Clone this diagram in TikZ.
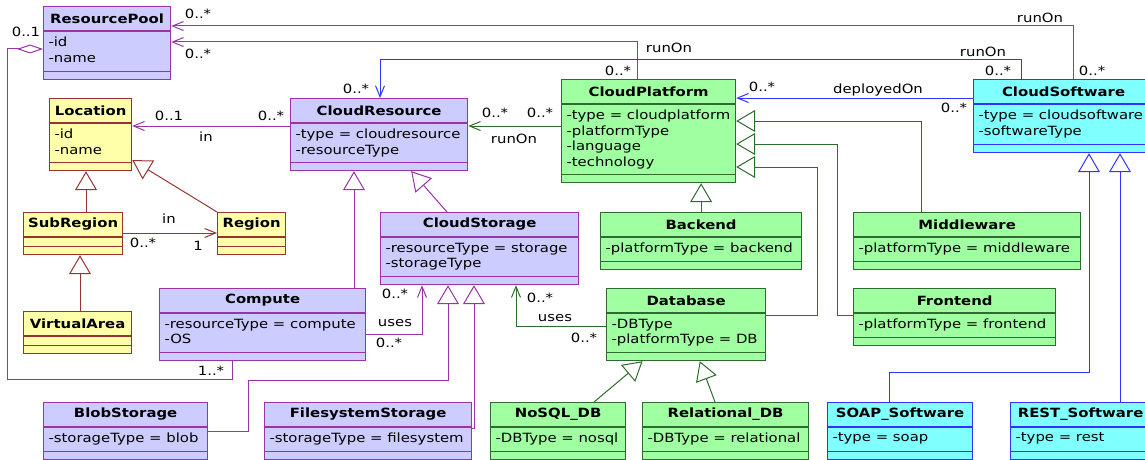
\documentclass[tikz,border=0pt]{standalone}
\usepackage{fontspec}
\setmainfont{DejaVu Sans}[FakeStretch=1.17]
\usepackage{tikz}
\usetikzlibrary{arrows.meta,calc}
\definecolor{poolfill}{HTML}{CCCCFF}
\definecolor{poolline}{HTML}{9933AA}
\definecolor{platfill}{HTML}{A0FFA0}
\definecolor{platline}{HTML}{2E6B2E}
\definecolor{softfill}{HTML}{80FFFF}
\definecolor{softline}{HTML}{3333FF}
\definecolor{locfill}{HTML}{FFFFAA}
\definecolor{locline}{HTML}{993333}
\tikzset{
  assoc/.style={-{Straight Barb[length=11pt,width=9pt]}},
  isa/.style={-{Triangle[open,length=19pt,width=22pt]}},
  agg/.style={{Diamond[open,length=26pt,width=9pt]}-},
  lbl/.style={inner sep=0pt}
}
% name, colour, x, y, width, attribute height, title, attributes
\newcommand{\umlclass}[8]{%
  \node[draw=#2line, fill=#2fill, line width=1.2pt, inner sep=0pt,
    minimum width=#5pt, minimum height={34pt+#6pt}, anchor=north west] (#1) at (#3,#4) {};
  \draw[#2line, line width=1.2pt] ($(#1.north west)+(0,25)$) -- ($(#1.north east)+(0,25)$);
  \draw[#2line, line width=1.2pt] ($(#1.south west)+(0,-9)$) -- ($(#1.south east)+(0,-9)$);
  \node[inner sep=0pt] (#1-t) at ($(#1.north)+(0,12.5)$) {\bfseries #7};
  \node[anchor=north west, align=left, inner sep=0pt] (#1-a) at ($(#1.north west)+(5,30.5)$) {#8};
}

\begin{document}
\begin{tikzpicture}[x=1pt,y=-1pt,line width=1pt,font=\fontsize{12.7}{15.5}\selectfont]
\useasboundingbox (0,0) rectangle (1145,460);
\clip (0,0) rectangle (1145,460);

\umlclass{rp}{pool}{43}{6}{127}{39}{ResourcePool}{-id\\-name}
\umlclass{loc}{loc}{49}{98}{82}{38}{Location}{-id\\-name}
\umlclass{cres}{pool}{290}{98}{177}{38}{CloudResource}{-type = cloudresource\\-resourceType}
\umlclass{cplat}{plat}{561}{79}{174}{69}{CloudPlatform}{-type = cloudplatform\\-platformType\\-language\\-technology}
\umlclass{csw}{soft}{973}{79}{180}{39}{CloudSoftware}{-type = cloudsoftware\\-softwareType}
\umlclass{sub}{loc}{23}{212}{99}{8}{SubRegion}{}
\umlclass{reg}{loc}{217}{212}{68}{8}{Region}{}
\umlclass{va}{loc}{23}{311}{108}{8}{VirtualArea}{}
\umlclass{cst}{pool}{380}{212}{198}{38}{CloudStorage}{-resourceType = storage\\-storageType}
\umlclass{comp}{pool}{159}{288}{206}{38}{Compute}{-resourceType = compute\\-OS}
\umlclass{back}{plat}{600}{212}{201}{23}{Backend}{-platformType = backend}
\umlclass{db}{plat}{606}{288}{159}{38}{Database}{-DBType\\-platformType = DB}
\umlclass{mid}{plat}{853}{212}{227}{23}{Middleware}{-platformType = middleware}
\umlclass{front}{plat}{853}{288}{202}{23}{Frontend}{-platformType = frontend}
\umlclass{blob}{pool}{43}{402}{164}{23}{BlobStorage}{-storageType = blob}
\umlclass{fs}{pool}{264}{402}{207}{23}{FilesystemStorage}{-storageType = filesystem}
\umlclass{nosql}{plat}{490}{402}{135}{23}{NoSQL\_DB}{-DBType = nosql}
\umlclass{rel}{plat}{642}{402}{166}{23}{Relational\_DB}{-DBType = relational}
\umlclass{soap}{soft}{827}{402}{145}{23}{SOAP\_Software}{-type = soap}
\umlclass{rest}{soft}{1010}{402}{140}{23}{REST\_Software}{-type = rest}

% associations
\draw[poolline, assoc] (csw.north -| 1073,0) |- (rp.east |- 0,26);
\draw[poolline, assoc] (cplat.north -| 637,0) |- (rp.east |- 0,42);
\draw[softline, assoc] (csw.north -| 1021,0) -- ++(0,-19) -| (cres.north -| 380,0);
\draw[softline, assoc] (csw.west |- 0,98) -- (cplat.east |- 0,98);
\draw[platline, assoc] (cplat.west |- 0,126) -- (cres.east |- 0,126);
\draw[poolline, assoc] (cres.west |- 0,126) -- (loc.east |- 0,126);
\draw[locline, assoc] (sub.east |- 0,233) -- (reg.west |- 0,233);
\draw[poolline, assoc] (comp.east |- 0,334) -| (cst.south -| 422,0);
\draw[platline, assoc] (db.west |- 0,326) -| (cst.south -| 516,0);
\draw[poolline, agg] (rp.west |- 0,49) -| (7,379) -| (comp.south -| 232,0);

% generalizations
\draw[locline, isa] (sub.north -| 86,0) -- (loc.south -| 86,0);
\draw[locline, isa] (reg.north west) -- (loc);
\draw[locline, isa] (va.north -| 80,0) -- (sub.south -| 80,0);
\draw[poolline, isa] (comp.north -| 354,0) -- (cres.south -| 354,0);
\draw[poolline, isa] (cst.north -| 447,0) -- (cres);
\draw[poolline, isa] (blob.east |- 0,431) -| (248,380) -| (cst.south -| 448,0);
\draw[poolline, isa] (fs.east |- 0,428) -| (cst.south -| 474,0);
\draw[platline, isa] (back.north) -- (cplat.south -| back.north);
\draw[platline, isa] (mid.north -| 921,0) |- (cplat.east |- 0,121);
\draw[platline, isa] (front.west |- 0,315) -- ++(-16,0) |- (cplat.east |- 0,144);
\draw[platline, isa] (db.east |- 0,315) -- ++(51,0) |- (cplat.east |- 0,167);
\draw[platline, isa] (nosql.north -| 594,0) -- (db);
\draw[platline, isa] (rel.north -| 715,0) -- (db);
\draw[softline, isa] (soap.north -| 889,0) -- ++(0,-30) -| (csw.south -| 1089,0);
\draw[softline, isa] (rest.north -| 1120,0) -- (csw.south -| 1120,0);

% multiplicities and role names
\node[lbl] (m1) at (198,14) {0..*};
\node[lbl] (m2) at (198,54) {0..*};
\node[lbl] (m3) at (26,32) {0..1};
\node[lbl] (m4) at (356,89) {0..*};
\node[lbl] (m5) at (169,116) {0..1};
\node[lbl] (m6) at (271,116) {0..*};
\node[lbl] (n1) at (206,137) {in};
\node[lbl] (n2) at (669,48) {runOn};
\node[lbl] (m7) at (618,71) {0..*};
\node[lbl] (m8) at (495,113) {0..*};
\node[lbl] (m9) at (540,113) {0..*};
\node[lbl] (n3) at (514,139) {runOn};
\node[lbl] (m10) at (762,87) {0..*};
\node[lbl] (n4) at (1040,18) {runOn};
\node[lbl] (n5) at (983,52) {runOn};
\node[lbl] (m11) at (998,71) {0..*};
\node[lbl] (m12) at (1092,71) {0..*};
\node[lbl] (n6) at (878,90) {deployedOn};
\node[lbl] (m13) at (954,108) {0..*};
\node[lbl] (n7) at (169,219) {in};
\node[lbl] (m14) at (143,243) {0..*};
\node[lbl] (m15) at (198,246) {1};
\node[lbl] (m16) at (211,371) {1..*};
\node[lbl] (n8) at (395,323) {uses};
\node[lbl] (m17) at (389,343) {0..*};
\node[lbl] (m18) at (395,294) {0..*};
\node[lbl] (m19) at (540,298) {0..*};
\node[lbl] (n9) at (555,318) {uses};
\node[lbl] (m20) at (584,338) {0..*};
\end{tikzpicture}
\end{document}
